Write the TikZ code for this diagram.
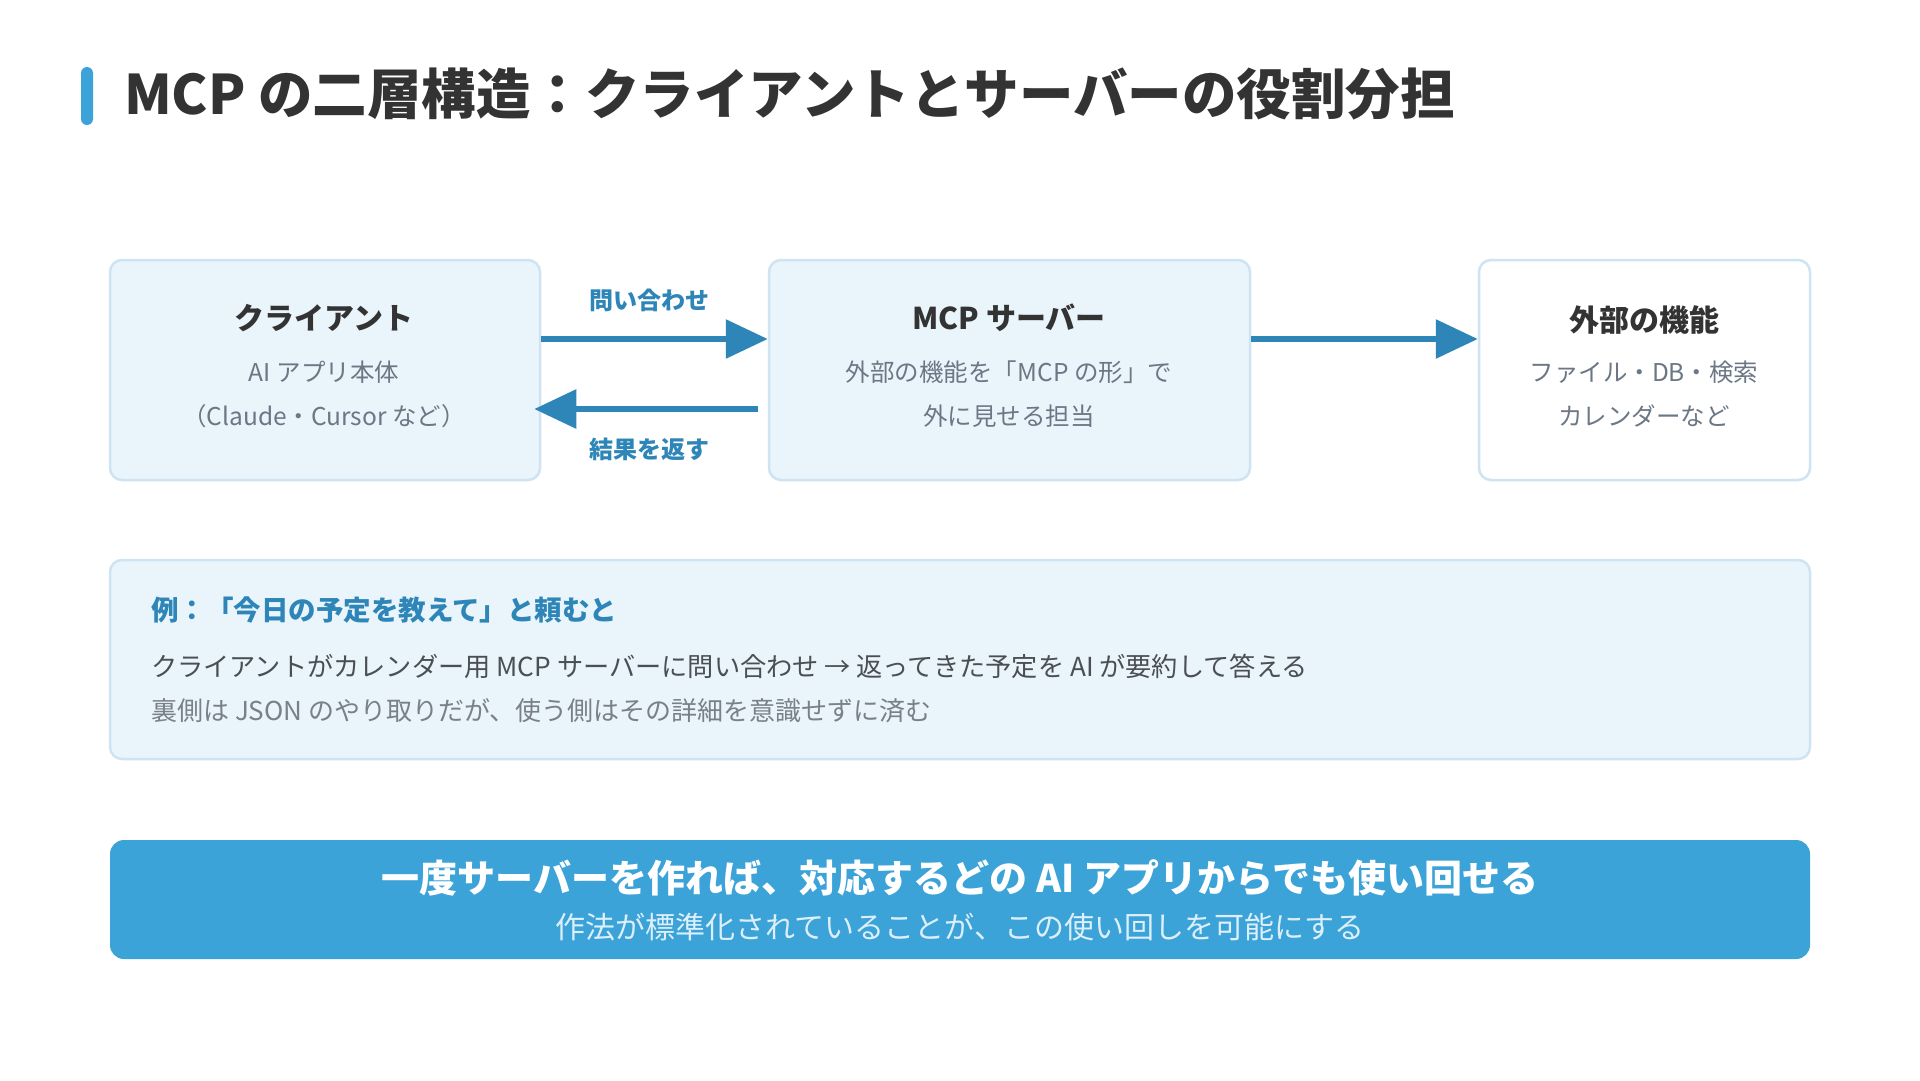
\documentclass[tikz,border=0pt]{standalone}
\usepackage{fontspec}
\setmainfont{Noto Sans CJK JP}
\usetikzlibrary{arrows.meta}
\definecolor{mcpblue}{HTML}{3BA3D8}
\definecolor{mcpdark}{HTML}{2E86B8}
\definecolor{boxfill}{HTML}{EAF4FB}
\definecolor{boxline}{HTML}{CFE4F2}
\definecolor{txtdark}{HTML}{333333}
\definecolor{txtgray}{HTML}{6B7785}
\definecolor{txtmid}{HTML}{4A4F55}
\definecolor{txtlight}{HTML}{7A8088}
\definecolor{barsub}{HTML}{DCEFFA}

\begin{document}
\begin{tikzpicture}[x=1pt, y=-1pt,
  card/.style={draw=boxline, line width=2.5pt, rounded corners=12pt, fill=boxfill, inner sep=0pt},
  ttl/.style={text=txtdark, font=\fontsize{30}{34}\selectfont\bfseries, inner sep=0pt},
  body/.style={text=txtgray, align=center, font=\fontsize{24.5}{44}\selectfont, inner sep=0pt},
  lbl/.style={text=mcpdark, font=\fontsize{24}{28}\selectfont\bfseries, inner sep=0pt},
  flow/.style={draw=mcpdark, line width=6pt, -{Triangle[length=42pt,width=38pt]}}
]
\useasboundingbox[fill=white] (0,0) rectangle (1920,1080);

% title
\node[fill=mcpblue, rounded corners=6pt, minimum width=12pt, minimum height=58pt, inner sep=0pt] (tbar) at (87,96) {};
\node[anchor=west, inner sep=0pt, text=txtdark, font=\fontsize{54.5}{60}\selectfont\bfseries] (title) at (124,94)
  {MCP の二層構造：クライアントとサーバーの役割分担};

% three boxes
\node[card, minimum width=430pt, minimum height=220pt] (cli) at (325,370) {};
\node[card, minimum width=481pt, minimum height=220pt] (srv) at (1009.5,370) {};
\node[card, fill=white, minimum width=331pt, minimum height=220pt] (ext) at (1644.5,370) {};

\node[ttl] (clihd) at (324,318) {クライアント};
\node[body] (clitx) at (324,394) {AI アプリ本体\\（Claude・Cursor など）};
\node[ttl] (srvhd) at (1009,318) {MCP サーバー};
\node[body] (srvtx) at (1009,394) {外部の機能を「MCP の形」で\\外に見せる担当};
\node[ttl] (exthd) at (1644,320) {外部の機能};
\node[body] (exttx) at (1644,394) {ファイル・DB・検索\\カレンダーなど};

% connectors
\draw[flow] ([yshift=31pt]cli.east) -- ([yshift=31pt]srv.west);
\draw[flow] ([yshift=-39pt,xshift=-10pt]srv.west) -- ([yshift=-39pt,xshift=-7pt]cli.east);
\draw[flow] ([yshift=31pt]srv.east) -- ([yshift=31pt]ext.west);
\node[lbl] (ask) at (649,300) {問い合わせ};
\node[lbl] (ret) at (649,449) {結果を返す};

% example
\node[card, minimum width=1700pt, minimum height=199pt] (expl) at (960,659.5) {};
\node[anchor=west, inner sep=0pt, text=mcpdark, font=\fontsize{27.5}{30}\selectfont\bfseries] (exhd) at (151,610)
  {例：「今日の予定を教えて」と頼むと};
\node[anchor=west, inner sep=0pt, text=txtmid, font=\fontsize{26.2}{28}\selectfont] (exl1) at (151,666)
  {クライアントがカレンダー用 MCP サーバーに問い合わせ → 返ってきた予定を AI が要約して答える};
\node[anchor=west, inner sep=0pt, text=txtlight, font=\fontsize{26}{28}\selectfont] (exl2) at (151,711)
  {裏側は JSON のやり取りだが、使う側はその詳細を意識せずに済む};

% bottom bar
\node[fill=mcpblue, rounded corners=14pt, minimum width=1700pt, minimum height=119pt, inner sep=0pt] (bar) at (960,899.5) {};
\node[inner sep=0pt, text=white, font=\fontsize{38}{40}\selectfont\bfseries] (barhd) at (960,878)
  {一度サーバーを作れば、対応するどの AI アプリからでも使い回せる};
\node[inner sep=0pt, text=barsub, font=\fontsize{30}{32}\selectfont] (bartx) at (960,927)
  {作法が標準化されていることが、この使い回しを可能にする};
\end{tikzpicture}
\end{document}
